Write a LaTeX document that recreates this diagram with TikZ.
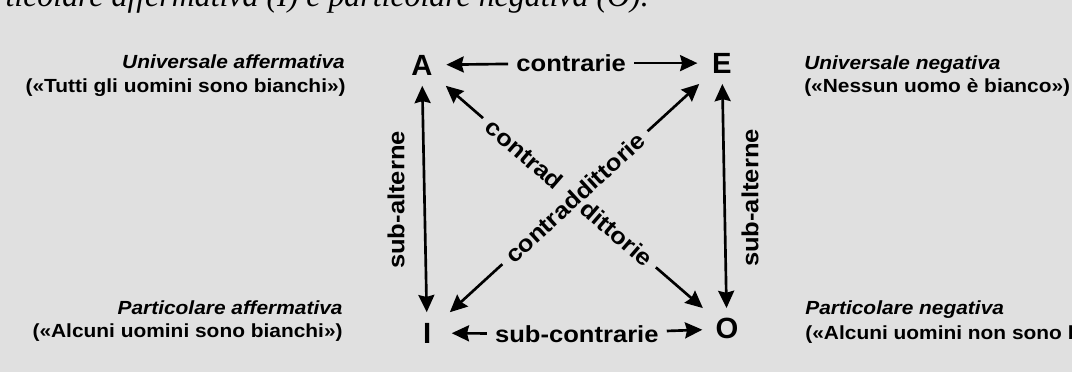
\documentclass[tikz,border=0pt]{standalone}
\usepackage{fontspec}
\setmainfont{Liberation Sans}
\newfontfamily\widesans[FakeStretch=1.1]{Liberation Sans}
\newfontfamily\textserif{Liberation Serif}
\usetikzlibrary{arrows.meta}

\begin{document}
\begin{tikzpicture}[
  >={Stealth[length=13pt,width=12pt,inset=1.5pt]},
  letter/.style={font=\bfseries\fontsize{22}{26}\selectfont,minimum width=1.3cm,
    minimum height=1.1cm,inner sep=0pt,outer sep=0pt},
  rel/.style={font=\widesans\bfseries\fontsize{17.5}{20}\selectfont,inner sep=6pt},
  gloss/.style={font=\widesans\bfseries\fontsize{14.3}{17}\selectfont,inner sep=0pt},
  link/.style={line width=2pt}
]
  \useasboundingbox (-14.18,-4.92) rectangle (14.18,4.92);
  \clip (-14.18,-4.92) rectangle (14.18,4.92);
  \fill[black!12] (-14.18,-4.92) rectangle (14.18,4.92);

  \node[font=\textserif\itshape\fontsize{24}{28}\selectfont,
    anchor=base west,inner sep=0pt] (caption) at (-15.21,4.74)
    {particolare affermativa (I) e particolare negativa (O).};

  \node[letter] (A) at (-3.02,3.20) {A};
  \node[letter] (E) at (4.92,3.25) {E};
  \node[letter] (I) at (-2.88,-3.89) {I};
  \node[letter] (O) at (5.05,-3.78) {O};

  \node[rel] (ctr) at (0.93,3.25) {contrarie};
  \node[rel] (sctr) at (1.08,-3.92) {sub-contrarie};
  \node[rel,rotate=90] (salt1) at (-3.70,-0.37) {sub-alterne};
  \node[rel,rotate=90] (salt2) at (5.66,-0.32) {sub-alterne};
  \node[rel,rotate=42.5] (cdx) at (1.03,-0.31) {contraddittorie};
  \node[rel,rotate=-40.9] (cdxa) at (-0.30,0.84) {contrad};
  \node[rel,rotate=-40.9] (cdxb) at (2.14,-1.26) {dittorie};

  \draw[link,->] (ctr) -- (A);
  \draw[link,->] (ctr) -- (E);
  \draw[link,->] (sctr) -- (I);
  \draw[link,->] (sctr) -- (O);
  \draw[link,<->] (A) -- (I);
  \draw[link,<->] (E) -- (O);
  \draw[link,->] (cdxa) -- (A);
  \draw[link,->] (cdxb) -- (O);
  \draw[link,->] (cdx) -- (E);
  \draw[link,->] (cdx) -- (I);

  % glosses beside the four corners
  \node[gloss,anchor=base east] (uaffh) at (-5.05,3.10)
    {\itshape Universale affermativa};
  \node[gloss,anchor=base east] (uaffx) at (-5.03,2.46)
    {(«Tutti gli uomini sono bianchi»)};
  \node[gloss,anchor=base west] (unegh) at (7.09,3.07)
    {\itshape Universale negativa};
  \node[gloss,anchor=base west] (unegx) at (7.09,2.46)
    {(«Nessun uomo è bianco»)};
  \node[gloss,anchor=base east] (paffh) at (-5.11,-3.39)
    {\itshape Particolare affermativa};
  \node[gloss,anchor=base east] (paffx) at (-5.11,-4.02)
    {(«Alcuni uomini sono bianchi»)};
  \node[gloss,anchor=base west] (pnegh) at (7.12,-3.41)
    {\itshape Particolare negativa};
  \node[gloss,anchor=base west] (pnegx) at (7.12,-4.05)
    {(«Alcuni uomini non sono bianchi»)};
\end{tikzpicture}
\end{document}
